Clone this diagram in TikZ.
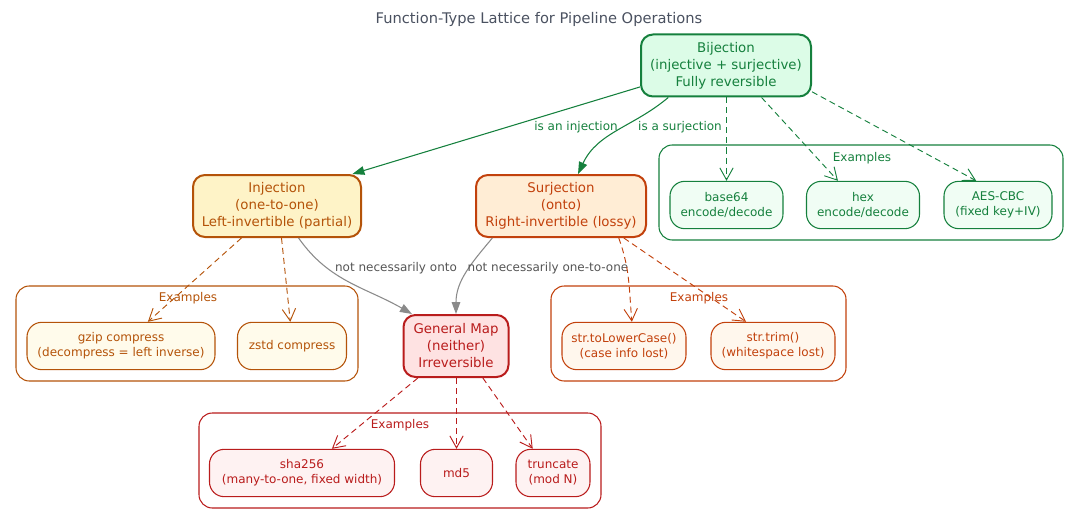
\documentclass[tikz,border=0pt]{standalone}
\usepackage{fontspec}
\setmainfont{DejaVu Sans}
\usetikzlibrary{arrows.meta}

\definecolor{bijline}{HTML}{15803D}
\definecolor{bijfill}{HTML}{DCFCE7}
\definecolor{bijlite}{HTML}{F0FDF4}
\definecolor{injline}{HTML}{B45309}
\definecolor{injfill}{HTML}{FEF3C7}
\definecolor{injlite}{HTML}{FFFBEB}
\definecolor{surline}{HTML}{C2410C}
\definecolor{surfill}{HTML}{FFEDD5}
\definecolor{surlite}{HTML}{FFF7ED}
\definecolor{genline}{HTML}{B91C1C}
\definecolor{genfill}{HTML}{FEE2E2}
\definecolor{genlite}{HTML}{FEF2F2}
\definecolor{edgegray}{HTML}{8A8A8A}
\definecolor{labelgray}{HTML}{555555}
\definecolor{titlegray}{HTML}{4A5160}

\begin{document}
\begin{tikzpicture}[x=0.75pt,y=-0.75pt,
  kind/.style={draw,rounded corners=9pt,line width=1.5pt,align=center,inner sep=2pt,
    minimum height=46.5pt,font=\fontsize{10}{12.75}\selectfont},
  sample/.style={draw,rounded corners=11pt,line width=0.8pt,align=center,inner sep=2pt,
    minimum height=35.5pt,font=\fontsize{9}{11.25}\selectfont},
  group/.style={draw,rounded corners=10pt,line width=0.8pt},
  grouplabel/.style={font=\fontsize{9}{11}\selectfont,inner sep=1pt},
  elabel/.style={font=\fontsize{9}{11}\selectfont,inner sep=1pt},
  isa/.style={line width=0.8pt,-{Triangle[length=9pt,width=6.5pt]}},
  eg/.style={line width=0.7pt,dash pattern=on 4.5pt off 3pt,-{Straight Barb[length=9pt,width=10pt]}}]
\useasboundingbox (0,0) rectangle (1080,524);

\node[font=\fontsize{11}{13}\selectfont,text=titlegray] (title) at (539,19) {Function-Type Lattice for Pipeline Operations};

% example groups
\draw[group,bijline] (659,145) rectangle (1063,240);
\draw[group,injline] (16,286) rectangle (358,381);
\draw[group,surline] (551,286) rectangle (846,381);
\draw[group,genline] (199,413) rectangle (601,508);
\node[grouplabel,text=bijline] (bijeg) at (862,158) {Examples};
\node[grouplabel,text=injline] (injeg) at (188,298) {Examples};
\node[grouplabel,text=surline] (sureg) at (699,298) {Examples};
\node[grouplabel,text=genline] (geneg) at (400,425) {Examples};

% function types
\node[kind,draw=bijline,fill=bijfill,text=bijline,minimum width=127.5pt] (bij) at (726,65.5)
  {Bijection\\(injective + surjective)\\Fully reversible};
\node[kind,draw=injline,fill=injfill,text=injline,minimum width=126pt] (inj) at (277,206)
  {Injection\\(one-to-one)\\Left-invertible (partial)};
\node[kind,draw=surline,fill=surfill,text=surline,minimum width=127.5pt] (sur) at (561,206)
  {Surjection\\(onto)\\Right-invertible (lossy)};
\node[kind,draw=genline,fill=genfill,text=genline,minimum width=78.75pt] (gen) at (456,346)
  {General Map\\(neither)\\Irreversible};

% examples
\node[sample,draw=bijline,fill=bijlite,text=bijline,minimum width=84.75pt] (b64) at (726.5,205) {base64\\encode/decode};
\node[sample,draw=bijline,fill=bijlite,text=bijline,minimum width=84.75pt] (hex) at (863,205) {hex\\encode/decode};
\node[sample,draw=bijline,fill=bijlite,text=bijline,minimum width=81pt] (aes) at (998,205) {AES-CBC\\(fixed key+IV)};
\node[sample,draw=injline,fill=injlite,text=injline,minimum width=141pt] (gzip) at (121,346) {gzip compress\\(decompress = left inverse)};
\node[sample,draw=injline,fill=injlite,text=injline,minimum width=81.75pt] (zstd) at (292,346) {zstd compress};
\node[sample,draw=surline,fill=surlite,text=surline,minimum width=93pt] (lower) at (624,346) {str.toLowerCase()\\(case info lost)};
\node[sample,draw=surline,fill=surlite,text=surline,minimum width=93pt] (trim) at (773,346) {str.trim()\\(whitespace lost)};
\node[sample,draw=genline,fill=genlite,text=genline,minimum width=138.75pt] (sha) at (302,473) {sha256\\(many-to-one, fixed width)};
\node[sample,draw=genline,fill=genlite,text=genline,minimum width=54pt] (md5) at (456.5,473) {md5};
\node[sample,draw=genline,fill=genlite,text=genline,minimum width=55.5pt] (trunc) at (553,473) {truncate\\(mod N)};

% lattice edges
\draw[isa,bijline] (bij.194.8) -- (inj.23.7);
\draw[isa,bijline] (bij.-151.5) to[out=-140,in=65] (sur.62);
\draw[isa,edgegray] (inj.-56) to[out=-55,in=150] (gen.144.6);
\draw[isa,edgegray] (sur.-155.8) to[out=-130,in=90] (gen.north);
\node[elabel,text=bijline] (l1) at (576,127) {is an injection};
\node[elabel,text=bijline] (l2) at (680,127) {is a surjection};
\node[elabel,text=labelgray] (l3) at (396,268) {not necessarily onto};
\node[elabel,text=labelgray] (l4) at (548,268) {not necessarily one-to-one};

% example edges
\draw[eg,bijline] (b64|-bij.south) -- (b64);
\draw[eg,bijline] (bij.-42.8) -- (hex.136);
\draw[eg,bijline] (bij.-17.3) -- (aes.132.6);
\draw[eg,injline] (inj.-138.5) -- (gzip.42.8);
\draw[eg,injline] (inj.-82.6) -- (zstd.94.8);
\draw[eg,surline] (sur.-29) to[out=-70,in=95] (lower.72);
\draw[eg,surline] (sur.-27) -- (trim.138);
\draw[eg,genline] (gen.-140.8) -- (sha.39.8);
\draw[eg,genline] (md5|-gen.south) -- (md5);
\draw[eg,genline] (gen.-50) -- (trunc.130);
\end{tikzpicture}
\end{document}
